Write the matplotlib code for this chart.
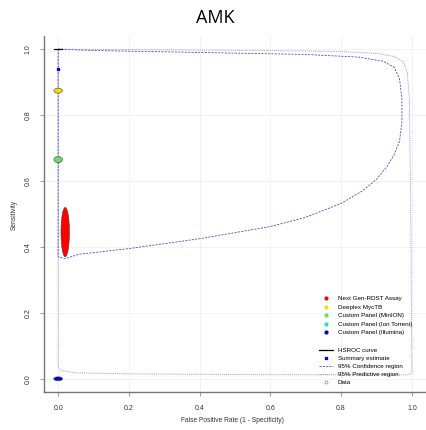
import numpy as np
import matplotlib.pyplot as plt
from matplotlib.patches import Ellipse
from matplotlib.lines import Line2D

plt.rcParams['font.family'] = ['Liberation Sans', 'DejaVu Sans']

# study estimates (FPR, sensitivity) and ellipse sizes
studies = ['Next Gen-RDST Assay', 'Deeplex MycTB', 'Custom Panel (MinION)',
           'Custom Panel (Ion Torrent)', 'Custom Panel (Illumina)']
study_colors = ['#ff0000', '#f0e000', '#66dd66', '#22dddd', '#0000cc']
study_fpr = [0.02, 0.0, 0.0, 0.0, 0.0]
study_sens = [0.445, 0.874, 0.665, 0.665, 0.0]
ell_w = [0.024, 0.024, 0.024, 0.022, 0.025]
ell_h = [0.15, 0.015, 0.019, 0.017, 0.012]

summary_fpr = 0.0
summary_sens = 0.94

hsroc_x = [-0.012, 0.012]
hsroc_y = [1.0, 1.0]

# 95% confidence region outline
conf_x = [0.0, 0.1, 0.4, 0.7, 0.85, 0.92, 0.95, 0.965, 0.972, 0.972, 0.965,
          0.95, 0.93, 0.9, 0.86, 0.8, 0.7, 0.6, 0.4, 0.2, 0.06, 0.02, 0.0, 0.0]
conf_y = [1.0, 0.996, 0.99, 0.984, 0.976, 0.963, 0.945, 0.91, 0.85, 0.78, 0.72,
          0.68, 0.645, 0.605, 0.57, 0.532, 0.49, 0.462, 0.425, 0.395, 0.378,
          0.365, 0.37, 1.0]

# 95% predictive region outline
pred_x = [0.0, 0.3, 0.6, 0.8, 0.9, 0.95, 0.975, 0.987, 0.993, 0.997, 1.0,
          0.99, 0.8, 0.5, 0.2, 0.05, 0.01, 0.0, 0.0]
pred_y = [1.0, 0.998, 0.996, 0.993, 0.987, 0.978, 0.962, 0.93, 0.85, 0.5, 0.02,
          0.012, 0.012, 0.013, 0.015, 0.018, 0.025, 0.035, 1.0]

ticks = [0.0, 0.2, 0.4, 0.6, 0.8, 1.0]

fig = plt.figure(figsize=(4.26, 4.30), dpi=100)
ax = fig.add_axes([44/426, 38/430, 382/426, 356/430])

for t in ticks:
    ax.axvline(t, color='#f0f0f0', lw=0.6, zorder=0)
    ax.axhline(t, color='#f0f0f0', lw=0.6, zorder=0)

ax.plot(pred_x, pred_y, color='#9a9ad8', lw=0.7, ls=(0, (1, 1)), zorder=2)
ax.plot(conf_x, conf_y, color='#4a4ad0', lw=0.6, ls=(0, (2.5, 1.5)), zorder=3)
ax.plot(hsroc_x, hsroc_y, color='black', lw=0.9, zorder=4)

for i in range(len(studies)):
    if studies[i] == 'Custom Panel (Ion Torrent)':
        continue
    e = Ellipse((study_fpr[i], study_sens[i]), ell_w[i], ell_h[i],
                facecolor=study_colors[i], edgecolor='#444444', lw=0.4, zorder=5)
    ax.add_patch(e)

ax.plot([summary_fpr], [summary_sens], 's', color='#0000ee', ms=2.0, zorder=6)

ax.set_xlim(-0.04, 1.04)
ax.set_ylim(-0.04, 1.04)
ax.set_xticks(ticks)
ax.set_yticks(ticks)
ax.set_xticklabels([f'{t:.1f}' for t in ticks], fontsize=5, color='#333333')
ax.set_yticklabels([f'{t:.1f}' for t in ticks], fontsize=5, color='#333333',
                   rotation=90, va='center')
ax.tick_params(length=3, width=0.5, color='#777777', pad=6)
for s in ['top', 'right']:
    ax.spines[s].set_visible(False)
for s in ['left', 'bottom']:
    ax.spines[s].set_color('#777777')
    ax.spines[s].set_linewidth(1.0)

fig.text(232/426, 1 - 421/430, 'False Positive Rate (1 - Specificity)', fontsize=4.8,
         color='#333333', ha='center', va='center')
fig.text(14/426, 1 - 215/430, 'Sensitivity', fontsize=4.8, color='#333333',
         ha='center', va='center', rotation=90)
fig.text(215/426, 1 - 18/430, 'AMK', fontsize=13, family='Open Sans',
         ha='center', va='center')

h1 = [Line2D([], [], ls='none', marker='o', ms=2.0, color=c) for c in study_colors]
leg1 = ax.legend(h1, studies, loc='upper left', bbox_to_anchor=(319/426, 1 - 296/430),
                 bbox_transform=fig.transFigure, frameon=False, fontsize=4.5,
                 labelspacing=0.5, handlelength=2.2, handletextpad=0.8,
                 borderpad=0, borderaxespad=0)
ax.add_artist(leg1)

h2 = [Line2D([], [], color='black', lw=0.9),
      Line2D([], [], ls='none', marker='s', ms=2.0, color='#0000ee'),
      Line2D([], [], color='#4a4ad0', lw=0.6, ls=(0, (2.5, 1.5))),
      Line2D([], [], color='#9a9ad8', lw=0.7, ls=(0, (1, 1))),
      Line2D([], [], ls='none', marker='o', ms=2.2, mfc='none', mec='#888888', mew=0.5)]
l2 = ['HSROC curve', 'Summary estimate', '95% Confidence region',
      '95% Predictive region', 'Data']
ax.legend(h2, l2, loc='upper left', bbox_to_anchor=(319/426, 1 - 348/430),
          bbox_transform=fig.transFigure, frameon=False, fontsize=4.5,
          labelspacing=0.4, handlelength=2.2, handletextpad=0.8,
          borderpad=0, borderaxespad=0)

fig.savefig('out.png', dpi=100)
